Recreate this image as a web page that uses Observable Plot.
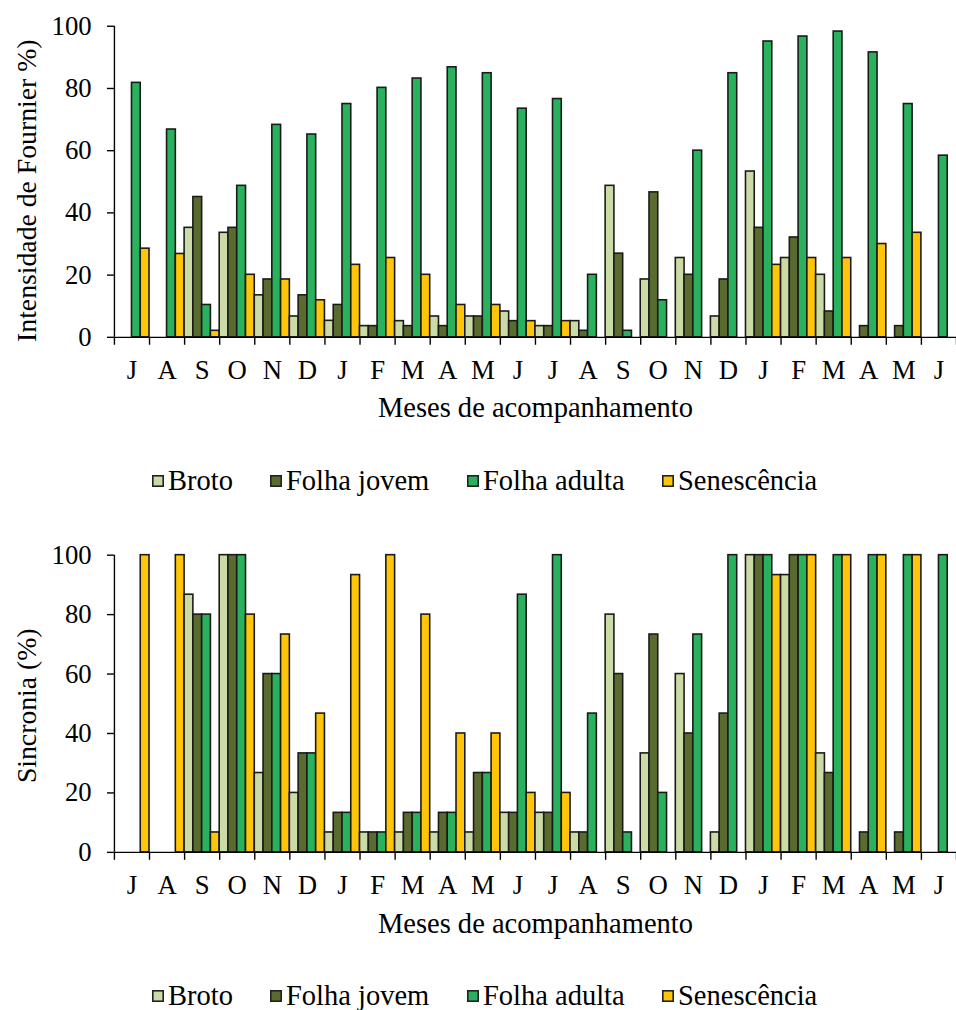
<!DOCTYPE html>
<html>
<head>
<meta charset="utf-8">
<script src="https://cdn.jsdelivr.net/npm/d3@7"></script>
<script src="https://cdn.jsdelivr.net/npm/@observablehq/plot@0.6"></script>
<style>
  html, body { margin: 0; padding: 0; background: #fff; overflow: hidden; }
  #wrap { position: relative; width: 956px; height: 1010px; overflow: hidden; font-family: "Liberation Serif", "Times New Roman", serif; color: #000; }
  .chart { position: absolute; left: 0; }
  .legend-item { position: absolute; display: flex; align-items: center; font-size: 28.5px; line-height: 22px; height: 22px; white-space: nowrap; }
  .sw { display: block; flex: 0 0 auto; margin-right: 4px; }
</style>
</head>
<body>
<div id="wrap"></div>
<script>
// ---- Data ----
const months = ["J","A","S","O","N","D","J","F","M","A","M","J","J","A","S","O","N","D","J","F","M","A","M","J"];
const series = ["Broto", "Folha jovem", "Folha adulta", "Senescência"];
const colors = ["#cbdba6", "#5a6b30", "#29b15e", "#ffc50b"];

// Intensidade de Fournier (%)
const brotoF   = [0,0,35.2,33.6,13.5,6.7,5.3,3.6,5.2,6.7,6.7,8.3,3.6,5.2,48.7,18.6,25.5,6.7,53.3,25.5,20.1,0,0,0];
const jovemF   = [0,0,45.1,35.2,18.6,13.5,10.4,3.6,3.6,3.6,6.7,5.2,3.6,2.1,26.9,46.6,20.1,18.6,35.2,32.1,8.3,3.6,3.6,0];
const adultaF  = [81.8,66.8,10.4,48.7,68.3,65.2,75.0,80.2,83.2,86.8,84.9,73.5,76.6,20.1,2.1,11.9,60.0,84.9,95.1,96.7,98.3,91.6,75.0,58.4];
const senescF  = [28.5,26.8,2.1,20.1,18.6,11.9,23.3,25.5,20.1,10.4,10.4,5.2,5.2,0,0,0,0,0,23.3,25.5,25.5,30.0,33.6,0];

// Sincronia (%)
const brotoS   = [0,0,86.7,100,26.7,20,6.7,6.7,6.7,6.7,6.7,13.3,13.3,6.7,80,33.3,60,6.7,100,93.3,33.3,0,0,0];
const jovemS   = [0,0,80,100,60,33.3,13.3,6.7,13.3,13.3,26.7,13.3,13.3,6.7,60,73.3,40,46.7,100,100,26.7,6.7,6.7,0];
const adultaS  = [0,0,80,100,60,33.3,13.3,6.7,13.3,13.3,26.7,86.7,100,46.7,6.7,20,73.3,100,100,100,100,100,100,100];
const senescS  = [100,100,6.7,80,73.3,46.7,93.3,100,80,40,40,20,20,0,0,0,0,0,93.3,100,100,100,100,0];

const yTicks = [0, 20, 40, 60, 80, 100];
const xTitle = "Meses de acompanhamento";
const yTitleTop = "Intensidade de Fournier %)";
const yTitleBottom = "Sincronia (%)";

function toRows(arrays) {
  const rows = [];
  months.forEach((m, i) => {
    series.forEach((s, j) => {
      rows.push({i, j, month: m, serie: s, value: arrays[j][i]});
    });
  });
  return rows.filter(d => d.value > 0);
}

function makeChart(arrays, yTitle, opts) {
  const rows = toRows(arrays);
  return Plot.plot({
    width: 965,
    height: opts.height,
    marginLeft: 115,
    marginRight: 0,
    marginTop: opts.marginTop,
    marginBottom: 100,
    style: {fontFamily: '"Liberation Serif", "Times New Roman", serif', fontSize: "27px", color: "#000", background: "transparent", overflow: "visible"},
    x: {type: "linear", domain: [0, months.length]},
    y: {domain: [0, 100]},
    color: {domain: series, range: colors},
    marks: [
      Plot.rectY(rows, {
        x1: d => d.i + d.j / 4,
        x2: d => d.i + (d.j + 1) / 4,
        y: "value",
        fill: "serie",
        stroke: "#1a1a1a",
        strokeWidth: 1.6
      }),
      Plot.ruleY([0], {stroke: "#000", strokeWidth: 1.4}),
      Plot.ruleX([0], {stroke: "#000", strokeWidth: 1.4}),
      Plot.axisY({ticks: yTicks, tickSize: 7, tickPadding: 16, fontSize: 27, label: null, strokeWidth: 1.4}),
      Plot.axisX({ticks: d3.range(months.length + 1), tickSize: 8, tickFormat: () => "", label: null, strokeWidth: 1.4}),
      Plot.axisX({ticks: d3.range(months.length).map(i => i + 0.5), tickSize: 0, tickPadding: 23, fontSize: 27,
                  tickFormat: d => months[Math.floor(d)], label: null}),
      Plot.text([xTitle], {text: d => d, frameAnchor: "bottom", dy: opts.xTitleDy, lineAnchor: "middle", fontSize: 28.8}),
      Plot.text([yTitle], {text: d => d, frameAnchor: "left", textAnchor: "middle", lineAnchor: "middle",
                           rotate: -90, dx: -88, dy: opts.yTitleDy, fontSize: 28})
    ]
  });
}

const wrap = document.getElementById("wrap");

const topChart = makeChart([brotoF, jovemF, adultaF, senescF], yTitleTop, {height: 440, marginTop: 26, xTitleDy: 71, yTitleDy: 9});
topChart.classList.add("chart");
topChart.style.top = "0px";
wrap.appendChild(topChart);

const bottomChart = makeChart([brotoS, jovemS, adultaS, senescS], yTitleBottom, {height: 435, marginTop: 35, xTitleDy: 72, yTitleDy: 2});
bottomChart.classList.add("chart");
bottomChart.style.top = "520px";
wrap.appendChild(bottomChart);

const legendLefts = [152, 270, 467, 662];
const svgNS = "http://www.w3.org/2000/svg";
function addLegend(topPx) {
  series.forEach((s, j) => {
    const item = document.createElement("div");
    item.className = "legend-item";
    item.style.left = legendLefts[j] + "px";
    item.style.top = topPx + "px";
    const sw = document.createElementNS(svgNS, "svg");
    sw.setAttribute("class", "sw");
    sw.setAttribute("width", "12");
    sw.setAttribute("height", "12");
    const r = document.createElementNS(svgNS, "rect");
    r.setAttribute("x", "0.8"); r.setAttribute("y", "0.8");
    r.setAttribute("width", "10.4"); r.setAttribute("height", "10.4");
    r.setAttribute("fill", colors[j]);
    r.setAttribute("stroke", "#222");
    r.setAttribute("stroke-width", "1.6");
    sw.appendChild(r);
    const lab = document.createElement("span");
    lab.textContent = s;
    item.appendChild(sw);
    item.appendChild(lab);
    wrap.appendChild(item);
  });
}
addLegend(470);
addLegend(985);
</script>
</body>
</html>
